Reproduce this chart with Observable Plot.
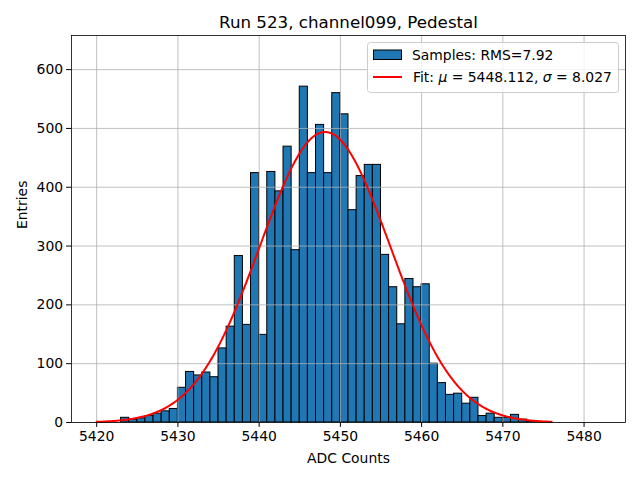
<!DOCTYPE html>
<html><head><meta charset="utf-8">
<script src="https://cdn.jsdelivr.net/npm/d3@7"></script>
<script src="https://cdn.jsdelivr.net/npm/@observablehq/plot@0.6"></script>
<style>
body{margin:0;background:#fff}
#chart{position:relative;width:640px;height:480px}
</style>
</head><body><div id="chart"></div>
<script>
// Histogram bins (left edges, width 1 ADC count) and their entries
const binStarts = [5423,5424,5425,5426,5427,5428,5429,5430,5431,5432,5433,5434,5435,5436,5437,5438,5439,5440,5441,5442,5443,5444,5445,5446,5447,5448,5449,5450,5451,5452,5453,5454,5455,5456,5457,5458,5459,5460,5461,5462,5463,5464,5465,5466,5467,5468,5469,5470,5471,5472,5473,5474];
const counts    = [8,5,7,11,15,19,23,59,86,80,85,77,126,163,283,166,424,149,426,393,469,293,571,424,506,424,560,524,361,419,438,438,285,230,167,244,230,235,100,67,47,49,32,42,11,15,8,8,13,5,2,1];
const binWidth = 1;
// Gaussian fit: mu, sigma (from legend), amplitude
const fitParams = [5448.112, 8.027, 494];
const fitRange = [5420, 5476];
const xTicks = [5420,5430,5440,5450,5460,5470,5480];
const yTicks = [0,100,200,300,400,500,600];
const titleText = "Run 523, channel099, Pedestal";
const xLabel = "ADC Counts";
const yLabel = "Entries";
const legendSamples = "Samples: RMS=7.92";

const bins = binStarts.map((s, i) => ({x1: s, x2: s + binWidth, count: counts[i]}));
const [mu, sigma, amp] = fitParams;
const fitPts = d3.range(0, 401).map(i => {
  const x = fitRange[0] + (fitRange[1] - fitRange[0]) * i / 400;
  return {x, y: amp * Math.exp(-0.5 * ((x - mu) / sigma) ** 2)};
});

const fs = 13.9;
const chart = Plot.plot({
  width: 640, height: 480,
  marginLeft: 71, marginRight: 15, marginTop: 35, marginBottom: 58,
  style: {fontFamily: "DejaVu Sans", fontSize: fs + "px", color: "black", background: "white"},
  x: {domain: [5416.9, 5485.1]},
  y: {domain: [0, 658]},
  marks: [
    Plot.rectY(bins, {x1: "x1", x2: "x2", y: "count", fill: "#1f77b4", stroke: "black", strokeWidth: 1}),
    Plot.gridX(xTicks, {stroke: "#b0b0b0", strokeOpacity: 1, strokeWidth: 0.8}),
    Plot.gridY(yTicks, {stroke: "#b0b0b0", strokeOpacity: 1, strokeWidth: 0.8}),
    Plot.line(fitPts, {x: "x", y: "y", stroke: "red", strokeWidth: 2}),
    Plot.frame({stroke: "black", strokeWidth: 0.8}),
    Plot.axisX(xTicks, {anchor: "bottom", tickSize: 4.9, tickPadding: 3.5, fontSize: fs, label: null, tickFormat: d => String(d)}),
    Plot.axisY(yTicks, {anchor: "left", tickSize: 4.9, tickPadding: 3.5, fontSize: fs, label: null, tickFormat: d => String(d)}),
    Plot.text([titleText], {frameAnchor: "top", lineAnchor: "bottom", dy: -8, fontSize: 16.7, fill: "black"}),
    Plot.text([xLabel], {frameAnchor: "bottom", lineAnchor: "bottom", dy: 40, fontSize: fs, fill: "black"}),
    Plot.text([yLabel], {frameAnchor: "left", lineAnchor: "middle", dx: -49, rotate: -90, fontSize: fs, fill: "black"})
  ]
});
document.getElementById("chart").appendChild(chart);

// Legend (upper right, matplotlib style)
const svg = d3.select(chart);
const g = svg.append("g").attr("font-family", "DejaVu Sans").attr("font-size", fs).attr("text-anchor", "start");
g.append("rect").attr("x", 367.5).attr("y", 42.5).attr("width", 251).attr("height", 50)
  .attr("rx", 3).attr("fill", "white").attr("fill-opacity", 0.8).attr("stroke", "#cccccc").attr("stroke-width", 1);
g.append("rect").attr("x", 373.5).attr("y", 50).attr("width", 28).attr("height", 9.5)
  .attr("fill", "#1f77b4").attr("stroke", "black").attr("stroke-width", 1);
g.append("text").attr("x", 412).attr("y", 59.5).attr("fill", "black").attr("text-anchor", "start").text(legendSamples);
g.append("line").attr("x1", 373).attr("x2", 402).attr("y1", 77).attr("y2", 77)
  .attr("stroke", "red").attr("stroke-width", 2);
const t = g.append("text").attr("x", 413).attr("y", 82).attr("fill", "black").attr("text-anchor", "start");
t.append("tspan").text("Fit: ");
t.append("tspan").attr("font-style", "italic").text("μ");
t.append("tspan").text(" = " + mu.toFixed(3) + ", ");
t.append("tspan").attr("font-style", "italic").text("σ");
t.append("tspan").text(" = " + sigma.toFixed(3));
</script>
</body></html>
